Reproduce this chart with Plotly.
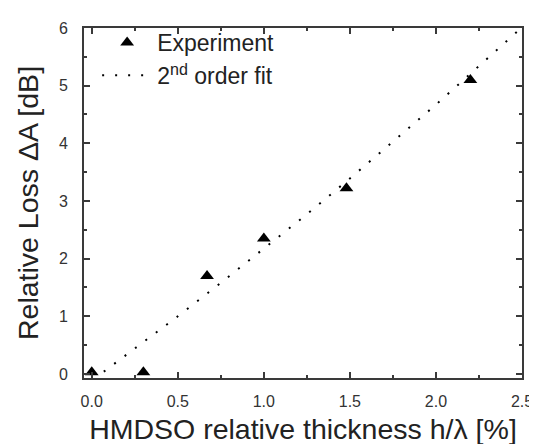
import plotly.graph_objects as go

# experimental data
thickness = [0.0, 0.3, 0.67, 1.0, 1.48, 2.2]
loss = [0.03, 0.03, 1.70, 2.35, 3.22, 5.10]

# 2nd order fit curve
fit_x = [0.07, 0.25, 0.5, 0.75, 1.0, 1.25, 1.5, 1.75, 2.0, 2.25, 2.48]
fit_y = [0.04, 0.44, 1.00, 1.58, 2.17, 2.77, 3.39, 4.03, 4.67, 5.34, 5.96]

FONT = "Liberation Sans, Arial, sans-serif"

fig = go.Figure()

fig.add_trace(go.Scatter(
    x=thickness, y=loss, mode="markers", name="Experiment",
    marker=dict(symbol="triangle-up", size=12, color="black"),
    legendgroup="a",
))

fig.add_trace(go.Scatter(
    x=fit_x, y=fit_y, mode="lines", name="2<sup>nd</sup> order fit",
    line=dict(color="black", width=2, dash="2px,11px"),
    legendgroup="b",
))

axis_common = dict(
    showgrid=False, zeroline=False,
    showline=True, linecolor="#3a3a3a", linewidth=2, mirror="ticks",
    ticks="inside", ticklen=6, tickwidth=1.5, tickcolor="#3a3a3a",
    tickfont=dict(size=16, color="#333333", family=FONT),
    title_font=dict(size=28.5, color="#222222", family=FONT),
)

fig.update_xaxes(
    range=[-0.045, 2.5], dtick=0.5, tickformat=".1f",
    minor=dict(dtick=0.25, ticks="inside", ticklen=3, tickcolor="#3a3a3a"),
    title_text="HMDSO relative thickness h/λ [%]", title_standoff=10,
    ticklabelstandoff=8,
    **axis_common,
)
fig.update_yaxes(
    range=[-0.07, 6], dtick=1,
    minor=dict(dtick=0.5, ticks="inside", ticklen=3, tickcolor="#3a3a3a"),
    title_text="Relative Loss ΔA [dB]", title_standoff=12,
    ticklabelstandoff=11,
    **axis_common,
)

fig.update_layout(
    width=537, height=444,
    margin=dict(l=76, r=12, t=16, b=67),
    paper_bgcolor="white", plot_bgcolor="white",
    font=dict(family=FONT, color="#222222"),
    showlegend=True,
    legend=dict(
        x=0.03, y=1.02, xanchor="left", yanchor="top",
        bgcolor="rgba(0,0,0,0)", font=dict(size=23, family=FONT),
        tracegroupgap=0, itemwidth=50,
    ),
)

fig.write_html("out.html")
